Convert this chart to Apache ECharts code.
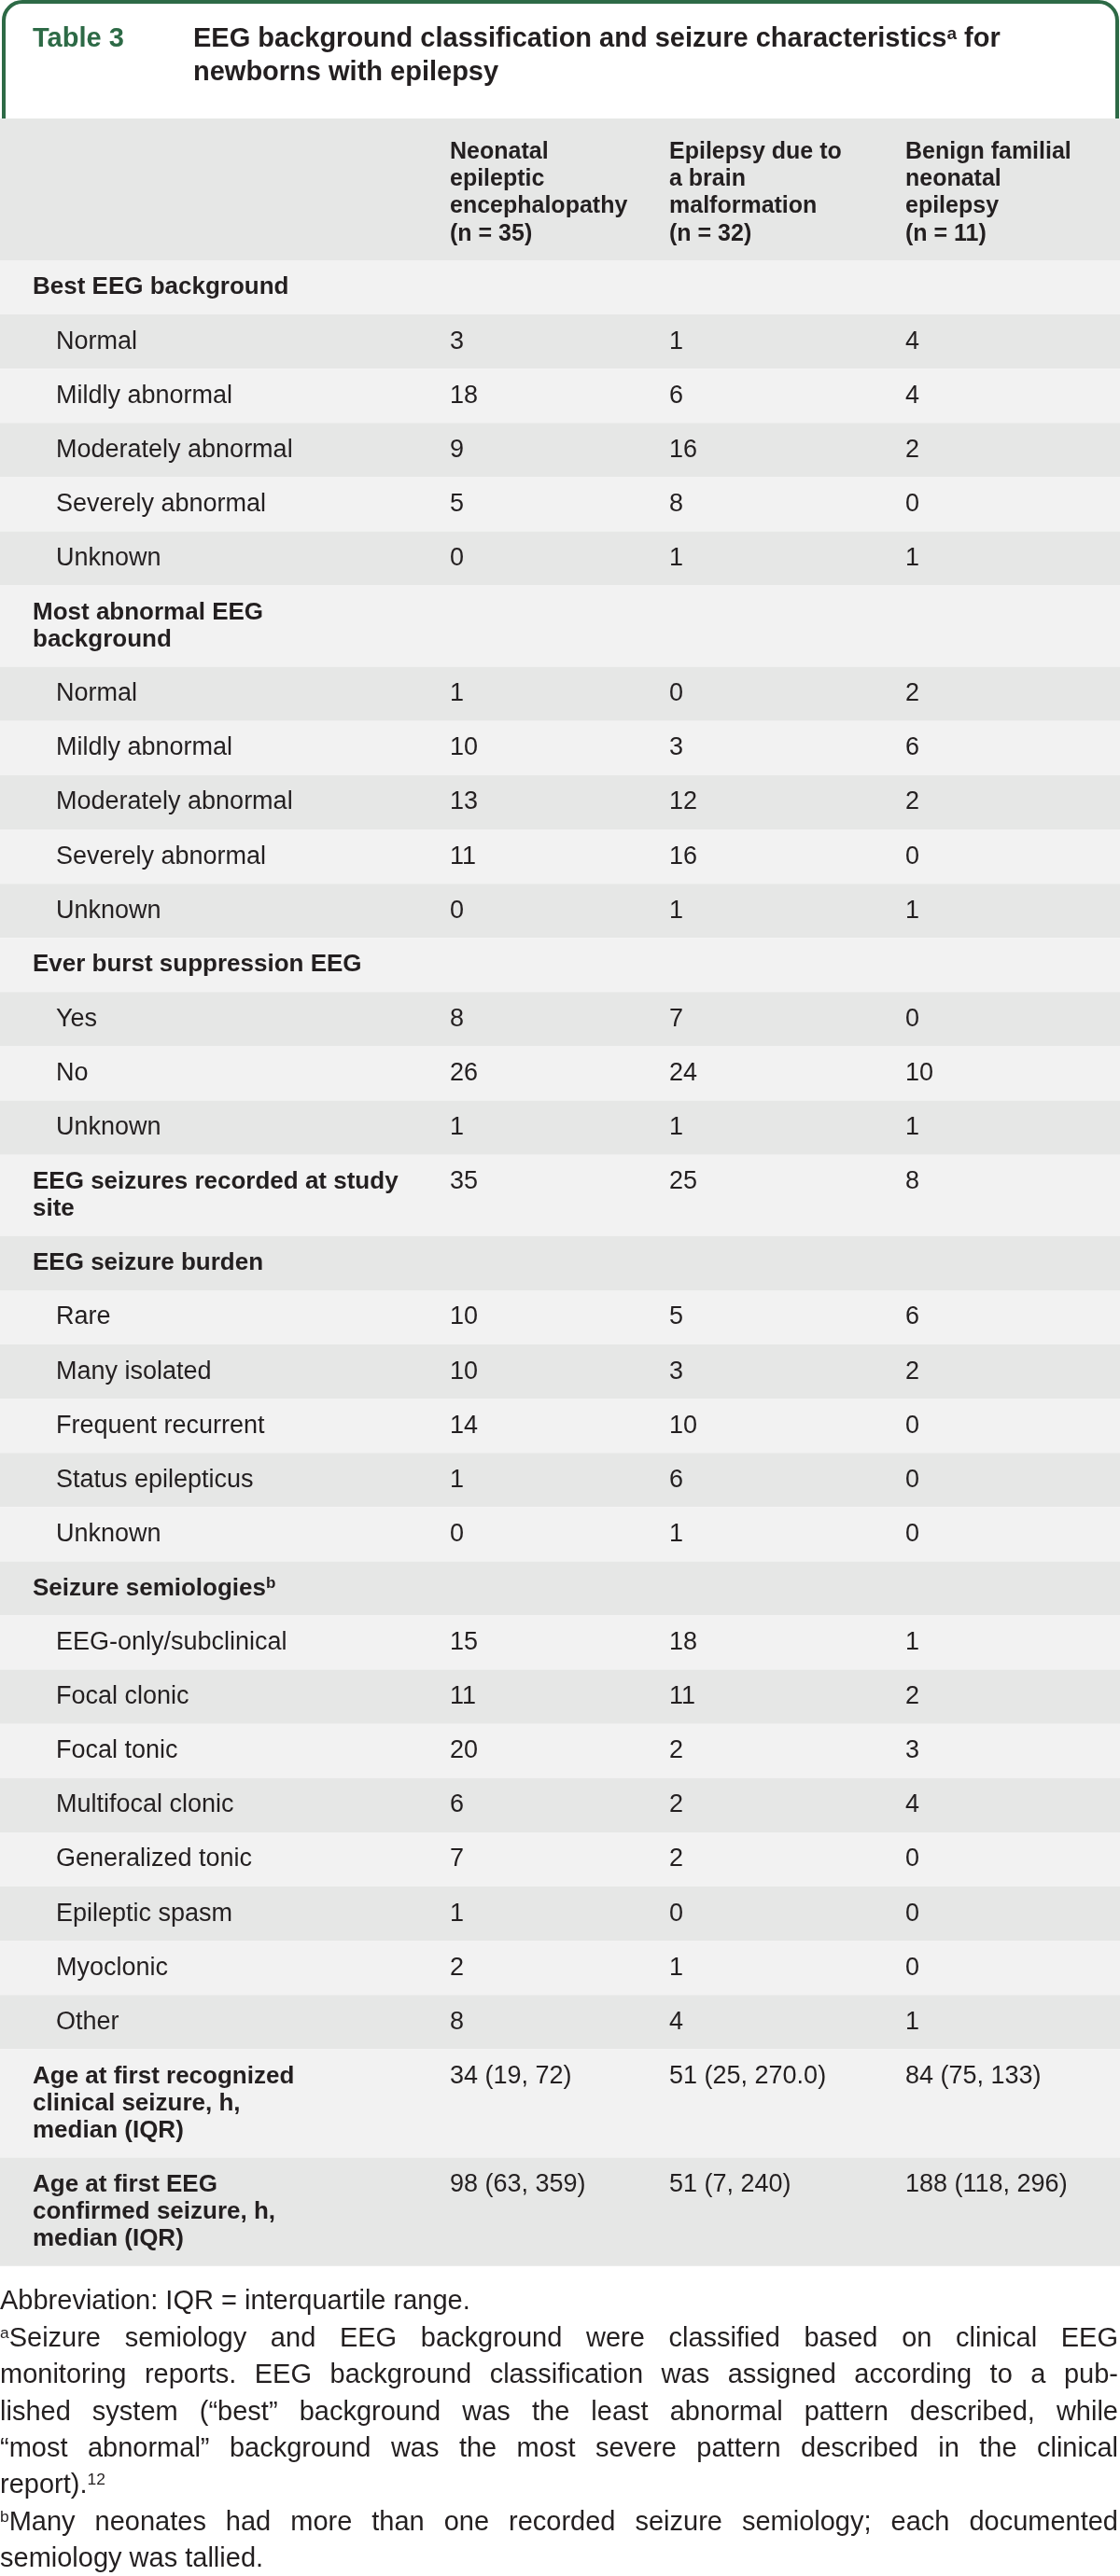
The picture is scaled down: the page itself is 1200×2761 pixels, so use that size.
<!DOCTYPE html>
<html>
<head>
<meta charset="utf-8">
<script src="https://cdn.jsdelivr.net/npm/echarts@6/dist/echarts.min.js"></script>
<style>
html,body{margin:0;padding:0;background:#ffffff;}
#chart{width:1200px;height:2761px;}
</style>
</head>
<body>
<div id="chart"></div>
<script>
// ---------------- DATA ----------------
const tableNumber = 'Table 3';
const titleLines = [
  'EEG background classification and seizure characteristics^{a} for',
  'newborns with epilepsy'
];
const columnHeaders = [
  'Neonatal\nepileptic\nencephalopathy\n(n = 35)',
  'Epilepsy due to\na brain\nmalformation\n(n = 32)',
  'Benign familial\nneonatal\nepilepsy\n(n = 11)'
];
const rowLabels = [
  'Best EEG background', 'Normal', 'Mildly abnormal', 'Moderately abnormal', 'Severely abnormal', 'Unknown',
  'Most abnormal EEG\nbackground', 'Normal', 'Mildly abnormal', 'Moderately abnormal', 'Severely abnormal', 'Unknown',
  'Ever burst suppression EEG', 'Yes', 'No', 'Unknown',
  'EEG seizures recorded at study\nsite',
  'EEG seizure burden', 'Rare', 'Many isolated', 'Frequent recurrent', 'Status epilepticus', 'Unknown',
  'Seizure semiologies^{b}', 'EEG-only/subclinical', 'Focal clonic', 'Focal tonic', 'Multifocal clonic',
  'Generalized tonic', 'Epileptic spasm', 'Myoclonic', 'Other',
  'Age at first recognized\nclinical seizure, h,\nmedian (IQR)',
  'Age at first EEG\nconfirmed seizure, h,\nmedian (IQR)'
];
// 1 = sub-item of the group above, 0 = group / stand-alone row
const rowIsSubItem = [
  0,1,1,1,1,1,
  0,1,1,1,1,1,
  0,1,1,1,
  0,
  0,1,1,1,1,1,
  0,1,1,1,1,1,1,1,1,
  0,0
];
const neonatalEpilepticEncephalopathy = [
  '', '3', '18', '9', '5', '0',
  '', '1', '10', '13', '11', '0',
  '', '8', '26', '1',
  '35',
  '', '10', '10', '14', '1', '0',
  '', '15', '11', '20', '6', '7', '1', '2', '8',
  '34 (19, 72)', '98 (63, 359)'
];
const brainMalformation = [
  '', '1', '6', '16', '8', '1',
  '', '0', '3', '12', '16', '1',
  '', '7', '24', '1',
  '25',
  '', '5', '3', '10', '6', '1',
  '', '18', '11', '2', '2', '2', '0', '1', '4',
  '51 (25, 270.0)', '51 (7, 240)'
];
const benignFamilialNeonatal = [
  '', '4', '4', '2', '0', '1',
  '', '2', '6', '2', '0', '1',
  '', '0', '10', '1',
  '8',
  '', '6', '2', '0', '0', '0',
  '', '1', '2', '3', '4', '0', '0', '0', '1',
  '84 (75, 133)', '188 (118, 296)'
];
const footnoteParagraphs = [
  ['Abbreviation: IQR = interquartile range.'],
  ['^{a}Seizure semiology and EEG background were classified based on clinical EEG',
   'monitoring reports. EEG background classification was assigned according to a pub-',
   'lished system (\u201cbest\u201d background was the least abnormal pattern described, while',
   '\u201cmost abnormal\u201d background was the most severe pattern described in the clinical',
   'report).^{12}'],
  ['^{b}Many neonates had more than one recorded seizure semiology; each documented',
   'semiology was tallied.']
];

// ---------------- STYLE / LAYOUT ----------------
const FONT = '"Liberation Sans", Arial, Helvetica, sans-serif';
const INK = '#231f20';
const GREEN = '#2d6a46';
const LIGHT = '#f2f2f2';
const DARK = '#e6e7e6';
const PAGE_W = 1200;
const TABLE_TOP = 127;
const HEADER_H = 152;
const LINE = 29.05;
const COL_X = [482, 717, 970];
const LABEL_X = 35, SUB_X = 60;

const mctx = document.createElement('canvas').getContext('2d');
function tw(str, size, weight) {
  mctx.font = (weight || 'normal') + ' ' + size + 'px ' + FONT;
  return mctx.measureText(str).width;
}
function parseRuns(str) {
  const out = []; const re = /\^\{([^}]*)\}/g; let last = 0, m;
  while ((m = re.exec(str))) {
    if (m.index > last) out.push({ t: str.slice(last, m.index), sup: false });
    out.push({ t: m[1], sup: true });
    last = re.lastIndex;
  }
  if (last < str.length) out.push({ t: str.slice(last), sup: false });
  return out;
}
function runEls(runs, x, baseline, o) {
  const els = []; let cx = x;
  runs.forEach(r => {
    const fs = r.sup ? o.supSize : o.size;
    const b = r.sup ? baseline - o.rise : baseline;
    els.push({
      type: 'text', silent: true, z: 5,
      style: { text: r.t, x: cx, y: b - 0.35 * fs, fill: o.color, fontSize: fs,
               fontFamily: FONT, fontWeight: o.weight, align: 'left', verticalAlign: 'middle' }
    });
    cx += tw(r.t, fs, o.weight);
  });
  return { els, width: cx - x };
}
function runsWidth(runs, o) {
  return runs.reduce((s, r) => s + tw(r.t, r.sup ? o.supSize : o.size, o.weight), 0);
}

const valueCols = [neonatalEpilepticEncephalopathy, brainMalformation, benignFamilialNeonatal];
const rowLines = rowLabels.map((l, i) => Math.max(l.split('\n').length, ...valueCols.map(c => c[i].split('\n').length)));
const rowHeights = rowLines.map(n => LINE * (n + 1));
const rowTops = [];
rowHeights.reduce((acc, h, i) => { rowTops[i] = acc; return acc + h; }, HEADER_H);
const TABLE_H = HEADER_H + rowHeights.reduce((a, b) => a + b, 0);

// ---------------- RENDERERS ----------------
function renderHeader(params, api) {
  const p0 = api.coord([0, 0]);
  const p1 = api.coord([PAGE_W, HEADER_H]);
  const children = [{
    type: 'rect', shape: { x: p0[0], y: p0[1], width: p1[0] - p0[0], height: p1[1] - p0[1] },
    style: { fill: DARK }
  }];
  columnHeaders.forEach((h, c) => {
    const px = api.coord([COL_X[c], 0])[0];
    const yc = api.coord([0, 36.5])[1];
    children.push({
      type: 'text',
      style: { text: h, x: px, y: yc - LINE / 2, fill: INK, fontSize: 25, fontWeight: 'bold',
               fontFamily: FONT, lineHeight: LINE, align: 'left', verticalAlign: 'top' }
    });
  });
  return { type: 'group', children };
}

function renderRow(params, api) {
  const i = params.dataIndex;
  const top = api.value(1);
  const p0 = api.coord([0, top]);
  const p1 = api.coord([PAGE_W, top + rowHeights[i]]);
  const children = [{
    type: 'rect', shape: { x: p0[0], y: p0[1], width: p1[0] - p0[0], height: p1[1] - p0[1] },
    style: { fill: i % 2 === 0 ? LIGHT : DARK }
  }];
  const sub = rowIsSubItem[i] === 1;
  const o = { size: sub ? 27 : 26, supSize: 17, rise: 8, weight: sub ? 'normal' : 'bold', color: INK };
  const lx = api.coord([sub ? SUB_X : LABEL_X, 0])[0];
  rowLabels[i].split('\n').forEach((line, k) => {
    const yc = api.coord([0, top + LINE * (k + 1)])[1];
    runEls(parseRuns(line), lx, yc + 0.35 * o.size, o).els.forEach(e => children.push(e));
  });
  valueCols.forEach((col, c) => {
    if (!col[i]) return;
    const px = api.coord([COL_X[c], 0])[0];
    const yc = api.coord([0, top + LINE])[1];
    children.push({
      type: 'text',
      style: { text: col[i], x: px, y: yc, fill: INK, fontSize: 27, fontFamily: FONT,
               align: 'left', verticalAlign: 'middle' }
    });
  });
  return { type: 'group', children };
}

// ---------------- GRAPHIC (title box, footnotes) ----------------
const graphics = [];
graphics.push({
  type: 'rect', z: 0, silent: true,
  shape: { x: 4, y: 2, width: PAGE_W - 7, height: 220, r: [20, 20, 0, 0] },
  style: { fill: '#ffffff', stroke: GREEN, lineWidth: 4 }
});
graphics.push({
  type: 'text', z: 5, silent: true,
  style: { text: tableNumber, x: 35, y: 52 - 0.35 * 29, fill: GREEN, fontSize: 29, fontWeight: 'bold',
           fontFamily: FONT, align: 'left', verticalAlign: 'middle' }
});
const titleOpt = { size: 29, supSize: 19, rise: 9, weight: 'bold', color: INK };
titleLines.forEach((line, k) => {
  runEls(parseRuns(line), 207, 52 + 36 * k, titleOpt).els.forEach(e => graphics.push(e));
});

const NOTE_BASE = 2477.5, NOTE_STEP = 39.4, NOTE_W = 1198;
// pick the largest footnote size (up to 29px) whose lines fit the page width with normal spacing
let noteSize = 29;
(function fitNotes() {
  for (; noteSize > 20; noteSize -= 0.5) {
    const o = { size: noteSize, supSize: noteSize * 0.6, weight: 'normal' };
    const sp = tw(' ', noteSize);
    let ok = true;
    footnoteParagraphs.forEach(par => par.forEach(line => {
      const words = line.split(' ').map(w => parseRuns(w));
      const tot = words.reduce((s, w) => s + runsWidth(w, o), 0) + sp * (words.length - 1);
      if (tot > NOTE_W - 4) ok = false;
    }));
    if (ok) break;
  }
})();
const noteOpt = { size: noteSize, supSize: noteSize * 0.6, rise: 10, weight: 'normal', color: INK };
let noteLine = 0;
footnoteParagraphs.forEach(par => {
  par.forEach((line, li) => {
    const baseline = NOTE_BASE + NOTE_STEP * noteLine;
    const justify = li < par.length - 1;
    const words = line.split(' ').map(w => parseRuns(w));
    const widths = words.map(w => runsWidth(w, noteOpt));
    const total = widths.reduce((a, b) => a + b, 0);
    const gap = justify && words.length > 1 ? (NOTE_W - total) / (words.length - 1) : tw(' ', noteOpt.size);
    let x = 0;
    words.forEach((w, wi) => {
      runEls(w, x, baseline, noteOpt).els.forEach(e => graphics.push(e));
      x += widths[wi] + gap;
    });
    noteLine++;
  });
});

// ---------------- CHART ----------------
const chart = echarts.init(document.getElementById('chart'), null, { renderer: 'canvas' });
chart.setOption({
  animation: false,
  backgroundColor: '#ffffff',
  grid: { left: 0, right: 0, top: TABLE_TOP, height: TABLE_H, containLabel: false },
  xAxis: { type: 'value', min: 0, max: PAGE_W, show: false },
  yAxis: { type: 'value', min: 0, max: TABLE_H, inverse: true, show: false },
  graphic: { elements: graphics },
  series: [
    { type: 'custom', silent: true, clip: false, renderItem: renderHeader, data: [[0, 0]], z: 2 },
    { type: 'custom', silent: true, clip: false, renderItem: renderRow,
      data: rowLabels.map((_, i) => [0, rowTops[i]]), z: 2 }
  ]
});
</script>
</body>
</html>
